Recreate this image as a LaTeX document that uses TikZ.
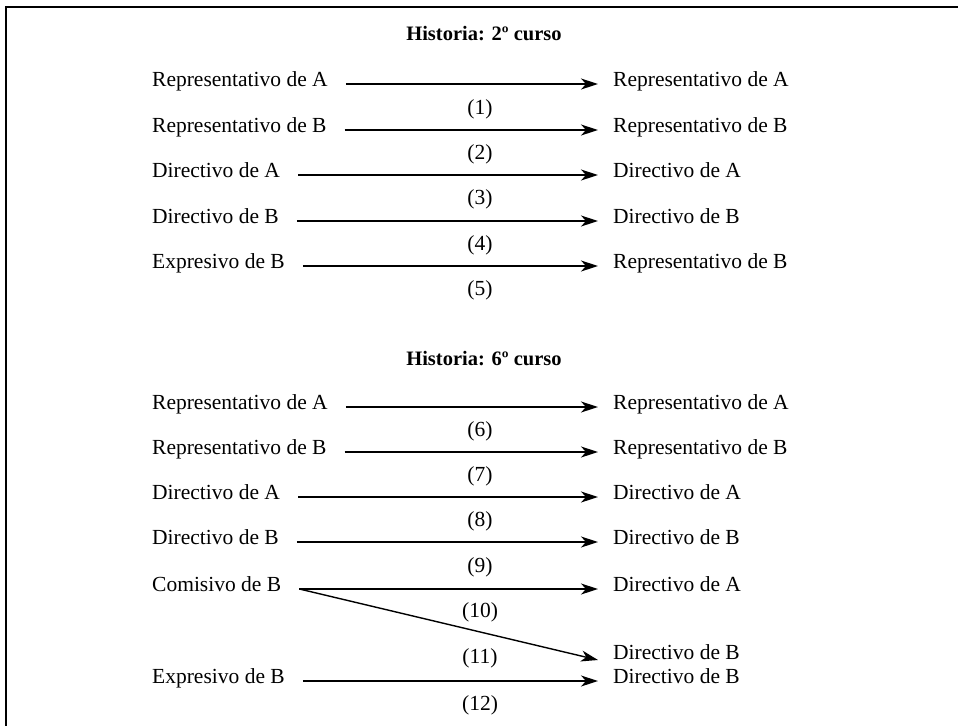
\documentclass[tikz,border=0pt]{standalone}
\usepackage{fontspec}
\setmainfont{Liberation Serif}
\usetikzlibrary{arrows.meta}
\begin{document}
\begin{tikzpicture}[x=1pt,y=-1pt,
  lbl/.style={anchor=west,inner sep=0pt,font=\fontsize{21.5}{24}\selectfont,text height=0.68em,text depth=0.22em},
  num/.style={inner sep=0pt,font=\fontsize{21.5}{24}\selectfont},
  ttl/.style={inner sep=0pt,font=\fontsize{20.5}{24}\selectfont\bfseries},
  arr/.style={line width=1.4pt,-{Stealth[length=17pt,width=11pt,inset=5pt]}},
  frame/.style={line width=2pt}]
\useasboundingbox (0,0) rectangle (958,726);
\coordinate (ftl) at (6,7);
\coordinate (ftr) at (958,7);
\coordinate (fbl) at (6,726);
\draw[frame] (ftr) -- (ftl) -- (fbl);

\node[ttl] (t1) at (484,34) {Historia: 2º curso};
\node[lbl] (l1) at (152,84) {Representativo de A};
\node[lbl] (r1) at (613,84) {Representativo de A};
\node[num] (n1) at (480,109) {(1)};
\node[lbl] (l2) at (152,130) {Representativo de B};
\node[lbl] (r2) at (613,130) {Representativo de B};
\node[num] (n2) at (480,154) {(2)};
\node[lbl] (l3) at (152,175) {Directivo de A};
\node[lbl] (r3) at (613,175) {Directivo de A};
\node[num] (n3) at (480,199) {(3)};
\node[lbl] (l4) at (152,221) {Directivo de B};
\node[lbl] (r4) at (613,221) {Directivo de B};
\node[num] (n4) at (480,245) {(4)};
\node[lbl] (l5) at (152,266) {Expresivo de B};
\node[lbl] (r5) at (613,266) {Representativo de B};
\node[num] (n5) at (480,290) {(5)};

\node[ttl] (t2) at (484,359) {Historia: 6º curso};
\node[lbl] (l6) at (152,407) {Representativo de A};
\node[lbl] (r6) at (613,407) {Representativo de A};
\node[num] (n6) at (480,431) {(6)};
\node[lbl] (l7) at (152,452) {Representativo de B};
\node[lbl] (r7) at (613,452) {Representativo de B};
\node[num] (n7) at (480,476) {(7)};
\node[lbl] (l8) at (152,497) {Directivo de A};
\node[lbl] (r8) at (613,497) {Directivo de A};
\node[num] (n8) at (480,521) {(8)};
\node[lbl] (l9) at (152,542) {Directivo de B};
\node[lbl] (r9) at (613,542) {Directivo de B};
\node[num] (n9) at (480,567) {(9)};
\node[lbl] (l10) at (152,589) {Comisivo de B};
\node[lbl] (r10) at (613,589) {Directivo de A};
\node[num] (n10) at (480,612) {(10)};
\node[lbl] (r11) at (613,657) {Directivo de B};
\node[num] (n11) at (480,658) {(11)};
\node[lbl] (l12) at (152,681) {Expresivo de B};
\node[lbl] (r12) at (613,681) {Directivo de B};
\node[num] (n12) at (480,705) {(12)};

\foreach \i in {1,...,10,12}{
  \draw[arr] ([xshift=18pt]l\i.east) -- ([xshift=-15pt]r\i.west);
}
\draw[arr] ([xshift=18pt]l10.east) -- ([xshift=-15pt,yshift=-3pt]r11.west);
\end{tikzpicture}
\end{document}
